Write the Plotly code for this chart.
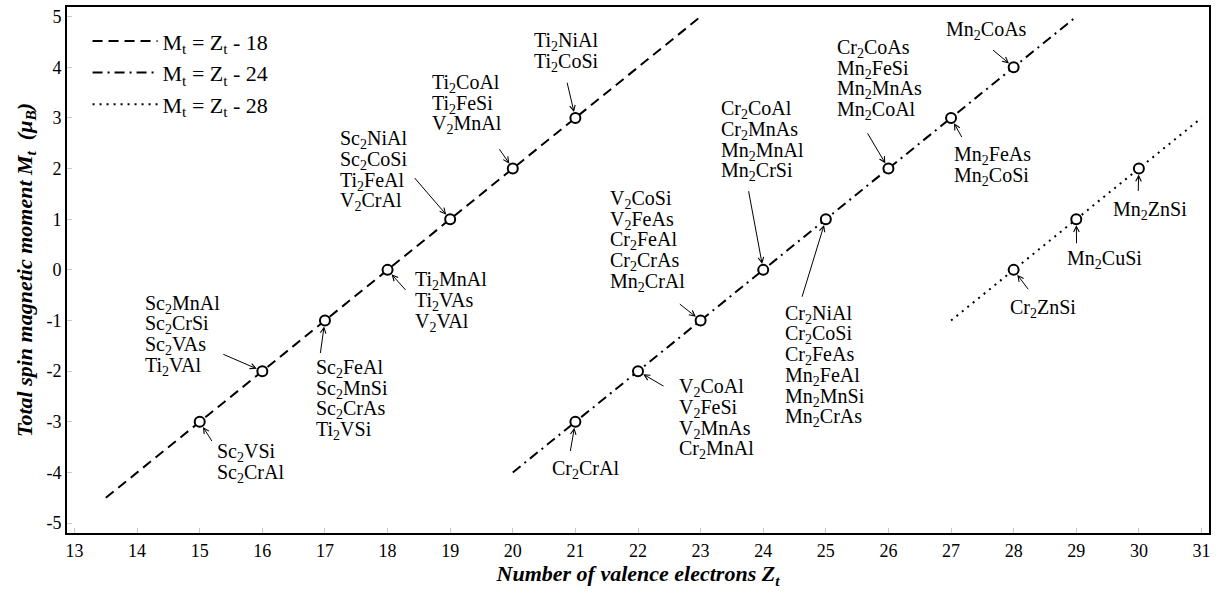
import plotly.graph_objects as go

# ---------------- data ----------------
line_names = ["M<sub>t</sub> = Z<sub>t</sub> - 18",
              "M<sub>t</sub> = Z<sub>t</sub> - 24",
              "M<sub>t</sub> = Z<sub>t</sub> - 28"]
line_offsets = [18, 24, 28]
line_z_start = [13.5, 20, 27]
line_z_end = [23, 29, 31]

point_z = [15, 16, 17, 18, 19, 20, 21,
           21, 22, 23, 24, 25, 26, 27, 28,
           28, 29, 30]
point_m = [-3, -2, -1, 0, 1, 2, 3,
           -3, -2, -1, 0, 1, 2, 3, 4,
           0, 1, 2]
point_labels = [
    ["Sc2VSi", "Sc2CrAl"],
    ["Sc2MnAl", "Sc2CrSi", "Sc2VAs", "Ti2VAl"],
    ["Sc2FeAl", "Sc2MnSi", "Sc2CrAs", "Ti2VSi"],
    ["Ti2MnAl", "Ti2VAs", "V2VAl"],
    ["Sc2NiAl", "Sc2CoSi", "Ti2FeAl", "V2CrAl"],
    ["Ti2CoAl", "Ti2FeSi", "V2MnAl"],
    ["Ti2NiAl", "Ti2CoSi"],
    ["Cr2CrAl"],
    ["V2CoAl", "V2FeSi", "V2MnAs", "Cr2MnAl"],
    ["V2CoSi", "V2FeAs", "Cr2FeAl", "Cr2CrAs", "Mn2CrAl"],
    ["Cr2CoAl", "Cr2MnAs", "Mn2MnAl", "Mn2CrSi"],
    ["Cr2NiAl", "Cr2CoSi", "Cr2FeAs", "Mn2FeAl", "Mn2MnSi", "Mn2CrAs"],
    ["Cr2CoAs", "Mn2FeSi", "Mn2MnAs", "Mn2CoAl"],
    ["Mn2FeAs", "Mn2CoSi"],
    ["Mn2CoAs"],
    ["Cr2ZnSi"],
    ["Mn2CuSi"],
    ["Mn2ZnSi"],
]

x_ticks = list(range(13, 32))
y_ticks = list(range(-5, 6))
x_ticktext = [str(v) for v in x_ticks]
y_ticktext = [str(v) for v in y_ticks]   # plain hyphen minus, as in the reference

# ---------------- layout helpers (pixel offsets, not data) ----------------
# text block offset (left edge, first line centre) relative to the point, px
text_off = [(15.4, 30.7), (-119.5, -66.9), (-10.5, 48.0), (25.9, 10.8),
            (-111.8, -79.4), (-82.7, -85.1), (-43.6, -76.0), (-25.3, 47.3),
            (38.7, 16.5), (-92.3, -121.0), (-43.9, -160.2), (-42.6, 95.0),
            (-53.5, -120.1), (0.6, 38.0), (-69.8, -36.8), (-5.5, 38.2),
            (-11.4, 40.6), (-28.3, 41.5)]
# arrow tail offset relative to the point, px
arrow_off = [(13.1, 20.7), (-40.5, -17.5), (-4.8, 34.0), (19.3, 21.5),
             (-36.8, -42.7), (-14.4, -20.8), (-8.6, -36.7), (-5.3, 30.7),
             (27.0, 15.8), (-22.3, -17.6), (-14.9, -80.2), (-24.2, 79.0),
             (-21.8, -36.8), (11.6, 20.7), (-22.1, -18.4), (15.6, 20.8),
             (0.3, 25.6), (-0.7, 23.9)]
LINE_H = 20.7
FONT = "Liberation Serif"
dashes = ["10px,6px", "10px,5px,2px,5px", "2px,5px"]


def chem(s):
    return s.replace("2", "<sub>2</sub>", 1)


fig = go.Figure()

for name, off, z0, z1, d in zip(line_names, line_offsets, line_z_start, line_z_end, dashes):
    zs = [z0, z1]
    fig.add_trace(go.Scatter(
        x=zs, y=[z - off for z in zs], mode="lines", name=name,
        line=dict(color="black", width=2, dash=d)))

fig.add_trace(go.Scatter(
    x=point_z, y=point_m, mode="markers", showlegend=False,
    marker=dict(symbol="circle", size=10, color="white",
                line=dict(color="black", width=2))))

annotations = []
for z, m, labels, (tdx, tdy), (adx, ady) in zip(point_z, point_m, point_labels, text_off, arrow_off):
    annotations.append(dict(
        x=z, y=m, xref="x", yref="y", text="", showarrow=True,
        ax=adx, ay=ady, arrowhead=5, arrowsize=1.1, arrowwidth=1,
        arrowcolor="black", standoff=6))
    for i, lab in enumerate(labels):
        annotations.append(dict(
            x=z, y=m, xref="x", yref="y", text=chem(lab), showarrow=False,
            xanchor="left", yanchor="middle", xshift=tdx,
            yshift=-(tdy + i * LINE_H),
            font=dict(family=FONT, size=20, color="black")))

axis_common = dict(
    showgrid=False, zeroline=False, showline=True, linecolor="black",
    linewidth=2, mirror=True, ticks="inside", ticklen=5, tickcolor="#c8c8c8",
    tickfont=dict(family=FONT, size=18, color="black"))

fig.update_layout(
    width=1220, height=594,
    margin=dict(l=67, r=11, t=5, b=61),
    plot_bgcolor="white", paper_bgcolor="white",
    annotations=annotations,
    showlegend=True,
    legend=dict(x=0.018, y=0.975, xanchor="left", yanchor="top",
                bgcolor="rgba(0,0,0,0)", font=dict(family=FONT, size=22, color="black"),
                itemwidth=65, tracegroupgap=0),
    xaxis=dict(range=[12.88, 31.12], tickvals=x_ticks, ticktext=x_ticktext,
               title=dict(text="<b><i>Number of valence electrons Z<sub>t</sub></i></b>",
                          font=dict(family=FONT, size=22, color="black"), standoff=6),
               **axis_common),
    yaxis=dict(range=[-5.195, 5.19], tickvals=y_ticks, ticktext=y_ticktext,
               title=dict(text="<b><i>Total spin magnetic moment M<sub>t</sub>  (μ<sub>B</sub>)</i></b>",
                          font=dict(family=FONT, size=22, color="black"), standoff=8),
               **axis_common),
)

fig.write_html("out.html")
